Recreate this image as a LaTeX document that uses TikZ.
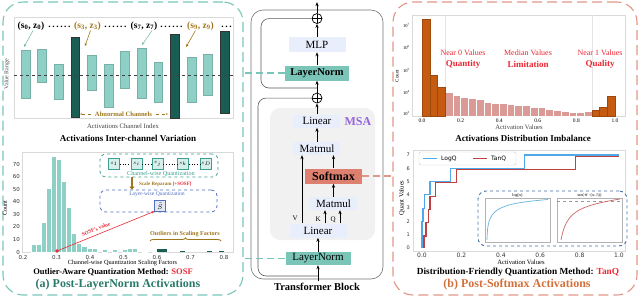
\documentclass[tikz,border=0pt]{standalone}
\usepackage{fontspec}
\setmainfont{Liberation Serif}
\setsansfont{DejaVu Sans}
\usetikzlibrary{arrows.meta,positioning,decorations.pathreplacing}
\definecolor{teallight}{RGB}{142,207,198}
\definecolor{tealdark}{RGB}{24,94,84}
\definecolor{tealnode}{RGB}{122,197,183}
\definecolor{tealline}{RGB}{120,198,186}
\definecolor{tealtitle}{RGB}{40,122,106}
\definecolor{cwteal}{RGB}{60,160,145}
\definecolor{golden}{RGB}{160,118,28}
\definecolor{nodeblue}{RGB}{232,238,251}
\definecolor{msagray}{RGB}{241,241,241}
\definecolor{msapurple}{RGB}{150,100,222}
\definecolor{softred}{RGB}{222,128,112}
\definecolor{salmonline}{RGB}{226,150,135}
\definecolor{barorange}{RGB}{197,90,17}
\definecolor{barpink}{RGB}{218,155,150}
\definecolor{textred}{RGB}{235,40,50}
\definecolor{titleorange}{RGB}{212,112,58}
\definecolor{logblue}{RGB}{80,168,232}
\definecolor{tanred}{RGB}{190,65,65}
\definecolor{insetblue}{RGB}{70,110,170}
\definecolor{lwblue}{RGB}{80,110,190}
\newcommand{\fsz}[1]{\fontsize{#1pt}{#1pt}\selectfont}

\begin{document}
\begin{tikzpicture}[x=1pt,y=-1pt,
   blk/.style={fill=nodeblue,minimum width=57pt,minimum height=14pt,inner sep=0pt,font=\fsz{11}},
   lnorm/.style={blk,fill=tealnode},
   oplus/.style={circle,draw,line width=0.7pt,minimum size=10pt,inner sep=0pt,
      path picture={\draw[line width=0.7pt] (path picture bounding box.north)--(path picture bounding box.south)
         (path picture bounding box.west)--(path picture bounding box.east);}},
   arr/.style={-{Stealth[length=4pt,width=3.2pt]},line width=0.8pt},
   res/.style={draw=black!65,line width=0.6pt,rounded corners=8pt},
   link/.style={dash pattern=on 7pt off 4pt,line width=1.3pt},
   panel/.style={dash pattern=on 10pt off 5pt,line width=1.1pt,rounded corners=20pt,
      minimum height=293pt,inner sep=0pt},
   ticklbl/.style={font=\sffamily\fsz{5.5},text=black!80,inner sep=1pt},
   lbl/.style={font=\bfseries\fsz{9.5},inner sep=0pt},
   ttl/.style={font=\bfseries\fsz{9},inner sep=0pt},
   chan/.style={fill=teallight,draw=teallight!85!black,line width=0.4pt},
   chandark/.style={fill=tealdark,draw=black!80,line width=0.4pt},
   sq/.style={draw=cwteal,fill=teallight!35,line width=0.9pt,minimum size=11pt,inner sep=0pt,font=\fsz{5.5}},
   tarr/.style={-{Stealth[length=3pt,width=2.6pt]},line width=0.6pt}]
\useasboundingbox (0,0) rectangle (640,298);

% panels
\node[panel,draw=tealline,minimum width=240pt] (pa) at (123,148.5) {};
\node[panel,draw=salmonline,minimum width=244pt] (pb) at (515,148.5) {};

% transformer block
\node[draw=black!55,line width=0.6pt,rounded corners=12pt,minimum width=132pt,minimum height=269pt] (tb) at (317,144.5) {};
\node[fill=msagray,rounded corners=10pt,minimum width=105pt,minimum height=132pt] (msa) at (322.5,174) {};
\node[font=\bfseries\fsz{12},text=msapurple] (msat) at (358,122) {MSA};
\node[lnorm,minimum width=65pt,minimum height=13pt] (ln1) at (318,258.5) {LayerNorm};
\node[blk,above=14pt of ln1] (lin1) {Linear};
\node[blk,minimum width=47pt,minimum height=13pt] (mm1) at (333.5,203.5) {Matmul};
\node[blk,fill=softred,font=\bfseries\fsz{12},minimum height=15pt,above=13pt of mm1] (sm) {Softmax};
\node[blk,minimum width=46pt,minimum height=13pt] (mm2) at (317,148.5) {Matmul};
\node[blk,minimum width=46pt,minimum height=13pt,above=14pt of mm2] (lin2) {Linear};
\node[oplus,above=11pt of lin2] (plus1) {};
\node[lnorm,font=\bfseries\fsz{10.5},minimum width=64pt,minimum height=15pt,above=12pt of plus1] (ln2) {LayerNorm};
\node[blk,minimum height=15pt,above=13pt of ln2] (mlp) {MLP};
\node[oplus,above=13pt of mlp] (plus2) {};
\coordinate[above=11pt of plus2] (out);
\coordinate (in) at (318,281);
\coordinate (r1) at (318,276);
\coordinate (r2) at (317,88);
\node[font=\bfseries\fsz{10.5}] (tbt) at (317,287) {Transformer Block};

\draw[arr] (in) -- (ln1);
\draw[arr] (ln1) -- (lin1);
\draw[arr] ([xshift=-16pt]lin1.north) -- ([xshift=-16pt]lin1.north |- mm2.south)
   node[pos=0.07,left=0.5pt,font=\fsz{7}] {V};
\draw[arr] ([xshift=7pt]lin1.north) -- ([xshift=7pt]lin1.north |- mm1.south)
   node[pos=0.3,left=0.5pt,font=\fsz{7}] {K};
\draw[arr] ([xshift=22pt]lin1.north) -- ([xshift=22pt]lin1.north |- mm1.south)
   node[pos=0.3,left=0.5pt,font=\fsz{7}] {Q};
\draw[arr] (mm1) -- (sm);
\draw[arr] (sm.north) -- (sm.north |- mm2.south);
\draw[arr] (mm2) -- (lin2);
\draw[arr] (lin2) -- (plus1);
\draw[arr] (plus1) -- (ln2);
\draw[arr] (ln2) -- (mlp);
\draw[arr] (mlp) -- (plus2);
\draw[arr] (plus2) -- (out);
\draw[res] (r1) -- ++(-60,0) |- (plus1.west);
\draw[res] (r2) -- ++(-56,0) |- (plus2.west);

\draw[link,tealline] (ln2.west) -- (ln2.west -| pa.east);
\draw[link,tealline] (ln1.west) -- (ln1.west -| pa.east);
\draw[link,salmonline] (sm.east) -- (sm.east -| pb.west);

% inter-channel variation
\draw[black!15,line width=0.5pt] (14,17) rectangle (233,118);
\foreach \i/\t/\b in {0/50/98,1/49/82,2/64/99,4/55/90,5/64/107,6/51/88,7/48/98,8/62/102,10/57/102,11/54/95}
  \filldraw[chan] ({21+16.6*\i},\t) rectangle ({29.7+16.6*\i},\b);
\foreach \i/\t/\b in {3/37/117,9/34/118,12/31/113}
  \filldraw[chandark] ({21+16.6*\i},\t) rectangle ({29.7+16.6*\i},\b);
\draw[black!75,dashed,line width=0.6pt] (14,75) -- (233,75);
\node[lbl] (l0) at (31,26) {(s\textsubscript{0}, z\textsubscript{0})};
\node[lbl] (d1) at (59.5,27) {.\,.\,.\,.\,.\,.};
\node[lbl,text=golden] (l3) at (87.5,26) {(s\textsubscript{3}, z\textsubscript{3})};
\node[lbl] (d2) at (115.5,27) {.\,.\,.\,.\,.\,.};
\node[lbl] (l7) at (144,26) {(s\textsubscript{7}, z\textsubscript{7})};
\node[lbl] (d3) at (171.5,27) {.\,.\,.\,.\,.\,.};
\node[lbl,text=golden] (l9) at (200.5,26) {(s\textsubscript{9}, z\textsubscript{9})};
\node[lbl] (d4) at (226.5,27) {.\,.\,.};
\coordinate (t0) at (24,47);
\coordinate (t3) at (85,46);
\coordinate (t7) at (142,45);
\coordinate (t9) at (186,47);
\draw[tarr,teallight!90!black] ([xshift=2pt]l0.south) -- (t0);
\draw[tarr,golden] ([xshift=3pt]l3.south) -- (t3);
\draw[tarr,teallight!90!black] ([xshift=8pt]l7.south) -- (t7);
\draw[tarr,golden] ([xshift=-5pt]l9.south) -- (t9);
\node[font=\bfseries\fsz{6.6},text=golden] (abn) at (123.5,114) {Abnormal Channels};
\draw[golden,dashed,line width=0.5pt,-{Stealth[length=2pt]}] (abn.west) -- (80,114);
\draw[golden,dashed,line width=0.5pt,-{Stealth[length=2pt]}] (abn.east) -- (168,114);
\node[rotate=90,font=\fsz{6},text=black!70] at (7,74) {Value Range};
\node[font=\fsz{6.7},text=black!75] at (123,126) {Activations Channel Index};
\node[ttl] at (128,138) {Activations Inter-channel Variation};

% scaling factor histogram
\draw[black!15,line width=0.5pt] (22,152) rectangle (233,252);
\foreach \l/\c in {0.225/6,0.24/6,0.255/24,0.27/51,0.285/76,0.30/74,0.315/56,0.33/36,0.345/15,0.36/7,
   0.375/5,0.39/3,0.405/3,0.435/2,0.465/2,0.495/2,0.51/3,0.525/3,0.555/1,0.585/1}
  \filldraw[fill=teallight,draw=white,line width=0.3pt] ({23+(\l-0.2)*335},252) rectangle ({23+(\l-0.185)*335},{252-1.257*\c});
\foreach \l/\c in {0.6/2,0.615/2,0.67/1,0.75/1,0.785/1}
  \fill[tealdark] ({23+(\l-0.2)*335},252) rectangle ({23+(\l-0.185)*335},{252-1.257*\c});
\foreach \k in {2,...,8}
  \node[ticklbl] at ({23+33.5*(\k-2)},257.5) {0.\k};
\foreach \c in {0,10,...,70}
  \node[ticklbl,anchor=east] at (21,{252-1.257*\c}) {\c};
\node[rotate=90,font=\fsz{6.1}] at (5,208) {Count};
\node[font=\fsz{6.3}] at (122.5,263) {Channel-wise Quantization Scaling Factors};

\node[draw=cwteal,dashed,rounded corners=6pt,line width=0.8pt,minimum width=118pt,minimum height=23pt] (cw) at (159,165.5) {};
\node[sq] (q1) at (114,164) {$s_1$};
\node[sq] (q2) at (136.5,164) {$s_i$};
\node[sq] (q3) at (157.5,164) {$s_j$};
\node[sq] (q4) at (183,164) {$s_k$};
\node[sq] (q5) at (206,164) {$s_D$};
\foreach \a/\b in {q1/q2,q2/q3,q3/q4,q4/q5}
  \draw[dotted,line width=0.7pt] (\a) -- (\b);
\node[font=\fsz{6.2},text=cwteal,inner sep=0pt] (cwt) at (161,173.8) {Channel-wise Quantization};
\node[draw=lwblue,dashed,rounded corners=6pt,line width=0.8pt,minimum width=117pt,minimum height=22pt] (lw) at (158.5,201) {};
\node[font=\fsz{5.6},text=lwblue,inner sep=0pt] (lwt) at (157,194.3) {Layer-wise Quantization};
\node[sq,draw=lwblue,fill=lwblue!15,minimum size=11pt,font=\fsz{7},outer sep=0pt] (st) at (160,205.8) {$\tilde{S}$};
\draw[golden,line width=1.8pt,-{Triangle[length=3pt,width=5pt]}] ([xshift=-27pt]cw.south) -- ([xshift=-27pt]cw.south |- lw.north);
\node[font=\bfseries\fsz{5},anchor=west,inner sep=0pt] (rep) at (139,184) {\textcolor{golden}{Scale Reparam} \textcolor{textred}{[+SOSF]}};
\coordinate (sv) at (57,251);
\fill[textred] (sv) circle (1.8);
\draw[textred,line width=0.6pt,-{Stealth[length=3pt]}] (sv) -- (st.south west)
   node[pos=0.42,sloped,above=0pt,font=\bfseries\fsz{5.3}] {SOSF's value};
\node[font=\bfseries\fsz{6.1},text=golden,inner sep=0pt] (olt) at (185,234) {Outliers in Scaling Factors};
\draw[golden,line width=0.8pt,decorate,decoration={brace,amplitude=3pt}] (150,241) -- (221,241);
\node[ttl,font=\bfseries\fsz{8.5}] at (113,272) {Outlier-Aware Quantization Method: \textcolor{textred}{SOSF}};
\node[font=\bfseries\fsz{12},text=tealtitle] at (118,285) {(a) Post-LayerNorm Activations};

% softmax histogram
\draw[black!15,line width=0.5pt] (412,15) rectangle (625,116);
\draw[black!10,line width=0.4pt] (445,15) -- (445,116) (592,15) -- (592,116);
\foreach \k/\t in {3/92,4/95,5/97,6/98,7/99,8/102,9/103,10/103,11/104,12/105,13/105,14/107,15/107,
   16/109,17/110,18/111,19/112,20/112,21/111}
  \filldraw[fill=barpink,draw=white,line width=0.3pt] ({422+7.72*\k},\t) rectangle ({429.72+7.72*\k},116);
\foreach \k/\t in {0/19,1/75,2/87,22/110,23/107,24/96}
  \filldraw[fill=barorange,draw=barorange!80!black,line width=0.3pt] ({422+7.72*\k},\t) rectangle ({429.72+7.72*\k},116);
\foreach \e/\y in {7/25,6/47,5/70,4/92,3/113}
  \node[anchor=east,font=\fsz{4.5},inner sep=1pt] at (411,\y) {10\textsuperscript{\e}};
\foreach \v/\lab in {0/0.0,1/0.2,2/0.4,3/0.6,4/0.8,5/1.0}
  \node[font=\fsz{5.5},inner sep=1pt] at ({422+38.6*\v},121) {\lab};
\node[rotate=90,font=\fsz{5}] at (397,76) {Count};
\node[font=\fsz{6.6},text=black!75] at (519,127) {Activation Values};
\node[font=\fsz{8},text=textred] (n0) at (463,53) {Near 0 Values};
\node[font=\bfseries\fsz{9},text=textred] (n0b) at (463,64) {Quantity};
\node[font=\fsz{8},text=textred] (n5) at (528,53) {Median Values};
\node[font=\bfseries\fsz{9},text=textred] (n5b) at (528,64) {Limitation};
\node[font=\fsz{8},text=textred] (n1) at (600,53) {Near 1 Values};
\node[font=\bfseries\fsz{9},text=textred] (n1b) at (600,64) {Quality};
\node[ttl] at (523,138) {Activations Distribution Imbalance};

% quantizer curves
\draw[black!15,line width=0.5pt] (413,150) rectangle (625,251);
\foreach \v/\lab in {0/0.0,1/0.2,2/0.4,3/0.6,4/0.8,5/1.0}
  \node[ticklbl,font=\sffamily\fsz{6}] at ({422+39.4*\v},255.5) {\lab};
\foreach \q in {0,...,7}
  \node[ticklbl,anchor=east,font=\sffamily\fsz{5}] at (411,{248-13.3*\q}) {\q};
\node[rotate=90,font=\fsz{6.5}] at (402,198) {Quant Values};
\node[font=\fsz{6.6}] at (521,262) {Activation Values};
\begin{scope}[shift={(422,248)},x=197pt,y=13.3pt]
  \draw[tanred,line width=1.2pt] plot coordinates {(0.01,0) (0.01,0.9) (0.02,0.9) (0.02,1.9) (0.032,1.9) (0.032,2.9)
     (0.041,2.9) (0.041,3.9) (0.07,3.9) (0.07,4.9) (0.177,4.9) (0.177,5.9) (0.78,5.9) (0.78,6.9) (1,6.9)};
  \draw[logblue,line width=1.2pt] plot coordinates {(0,0) (0,2) (0.005,2) (0.005,3) (0.012,3) (0.012,4)
     (0.041,4) (0.041,5) (0.143,5) (0.143,6) (0.52,6) (0.52,7) (1,7)};
\end{scope}
\draw[black!20,fill=white,rounded corners=1.5pt,line width=0.4pt] (419,152) rectangle (516,165);
\draw[logblue,line width=1.2pt] (423,158.5) -- (437,158.5);
\node[anchor=west,font=\sffamily\fsz{6},inner sep=0pt] (lq) at (441,158.5) {LogQ};
\draw[tanred,line width=1.2pt] (473,158.5) -- (487,158.5);
\node[anchor=west,font=\sffamily\fsz{6},inner sep=0pt] (tq) at (491,158.5) {TanQ};

\node[draw=insetblue,dashed,line width=0.9pt,rounded corners=8pt,fill=white,minimum width=149pt,minimum height=55pt] (ins) at (552.5,218.5) {};
\draw[black!30,line width=0.4pt] (485,198) rectangle (550,242);
\draw[black!30,line width=0.4pt] (557,198) rectangle (622,242);
\node[font=\fsz{4.2},inner sep=0pt] at (517.5,195) {log(x)};
\node[font=\fsz{4.2},inner sep=0pt] at (589.5,195) {tan($\pi\cdot$(x-.5))};
\draw[logblue!70!teallight,line width=0.7pt] (487,240) .. controls (487.5,210) and (493,204) .. (548,199.5);
\draw[black!40,dashed,line width=0.4pt] (557,201) -- (622,201);
\draw[tanred!80,line width=0.7pt] (561,240) .. controls (566,212) and (578,206) .. (620,199);
\node[ttl,font=\bfseries\fsz{9.3}] at (518,272) {Distribution-Friendly Quantization Method: \textcolor{textred}{TanQ}};
\node[font=\bfseries\fsz{12},text=titleorange] at (517,285) {(b) Post-Softmax Activations};
\end{tikzpicture}
\end{document}
